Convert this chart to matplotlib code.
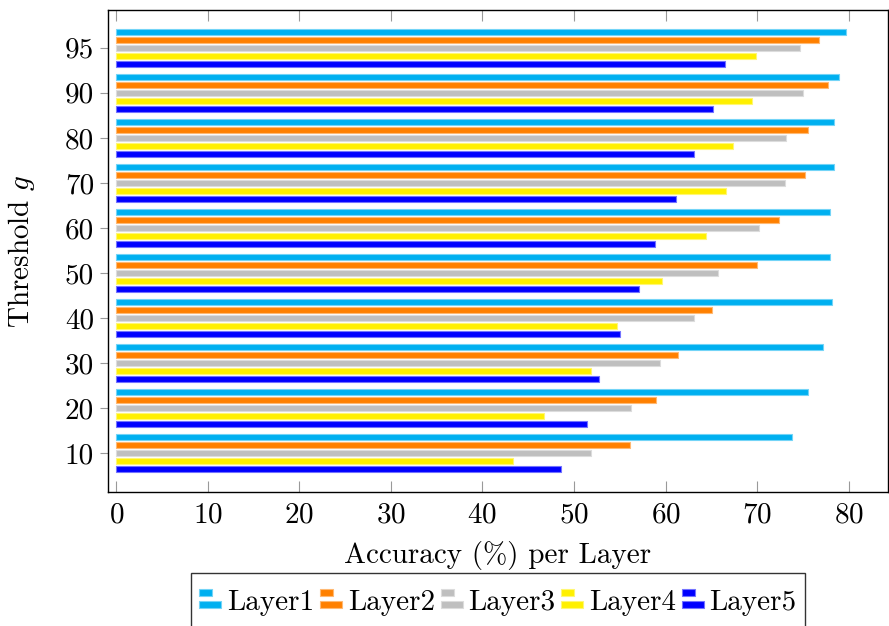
import numpy as np
import matplotlib
matplotlib.use("Agg")
from matplotlib import pyplot as plt
from matplotlib.colors import to_rgb
from matplotlib.legend_handler import HandlerBase
from matplotlib.patches import Rectangle

thresholds = ['10', '20', '30', '40', '50', '60', '70', '80', '90', '95']
layers = ['Layer1', 'Layer2', 'Layer3', 'Layer4', 'Layer5']
layer1 = [73.8, 75.6, 77.2, 78.2, 77.9, 78.0, 78.4, 78.4, 78.9, 79.7]
layer2 = [56.1, 59.0, 61.4, 65.1, 70.0, 72.4, 75.2, 75.5, 77.7, 76.7]
layer3 = [51.9, 56.2, 59.4, 63.1, 65.7, 70.2, 73.0, 73.1, 75.0, 74.7]
layer4 = [43.3, 46.7, 51.9, 54.7, 59.6, 64.4, 66.6, 67.4, 69.4, 69.9]
layer5 = [48.6, 51.4, 52.7, 55.0, 57.1, 58.8, 61.1, 63.1, 65.2, 66.5]
colors = ['#00B0F0', '#FF8000', '#BFBFBF', '#FFF000', '#0000FF']


def lighter(c, f=0.45):
    r = np.array(to_rgb(c))
    return tuple(r + (1 - r) * f)


class BarHandler(HandlerBase):
    # pgfplots style legend image: two small stacked bars
    def create_artists(self, legend, orig, xd, yd, w, h, fontsize, trans):
        p = orig.patches[0]
        fc = p.get_facecolor()
        ec = p.get_edgecolor()
        x0 = -xd
        yc = -yd + h / 2 + 0.05 * fontsize
        bh = 0.24 * fontsize
        r1 = Rectangle((x0, yc + 0.08 * fontsize), w * 0.6, bh,
                       facecolor=fc, edgecolor=ec, lw=0.8, transform=trans)
        r2 = Rectangle((x0, yc - 0.08 * fontsize - bh), w, bh,
                       facecolor=fc, edgecolor=ec, lw=0.8, transform=trans)
        return [r1, r2]


plt.rcParams['font.family'] = 'cmr10'
plt.rcParams['mathtext.fontset'] = 'cm'
plt.rcParams['axes.formatter.use_mathtext'] = True

fs = 21
fig = plt.figure(figsize=(8.89, 6.26), dpi=100)
ax = fig.add_axes([0.1215, 0.214, 0.8775, 0.77])

y = np.arange(len(thresholds))
pitch = 0.178
height = 0.145
series = [layer1, layer2, layer3, layer4, layer5]
handles = []
for i, (vals, name, c) in enumerate(zip(series, layers, colors)):
    b = ax.barh(y + (2 - i) * pitch, vals, height=height, color=c,
                edgecolor=lighter(c), linewidth=0.8, label=name)
    handles.append(b)

ax.set_xlim(-0.9, 84.3)
ax.set_ylim(-0.87, 9.84)
ax.set_yticks(y)
ax.set_yticklabels(thresholds)
ax.set_xticks(np.arange(0, 81, 10))

ax.tick_params(axis='x', direction='in', top=True, bottom=True, length=8,
               color='#999999', labelsize=fs, pad=7)
ax.tick_params(axis='y', direction='out', left=True, right=False, length=6,
               color='#999999', labelsize=fs, pad=4)
for s in ax.spines.values():
    s.set_linewidth(1.0)

ax.set_xlabel('Accuracy (%) per Layer', fontsize=fs, labelpad=9)
ax.set_ylabel('Threshold $g$', fontsize=fs, labelpad=20)

# legend centred under the axes, partly cut by the figure edge
ax_cx = 0.1215 + 0.8775 / 2
leg = fig.legend(handles=handles, labels=layers, loc='upper center',
                 bbox_to_anchor=(ax_cx, 0.085), borderaxespad=0, ncol=5,
                 fontsize=fs, frameon=True, fancybox=False, edgecolor='black',
                 handler_map={h: BarHandler() for h in handles},
                 handlelength=0.75, handleheight=1.6, handletextpad=0.2,
                 columnspacing=0.2, borderpad=0.3)
leg.get_frame().set_linewidth(1.0)

fig.savefig('out.png', dpi=100)
